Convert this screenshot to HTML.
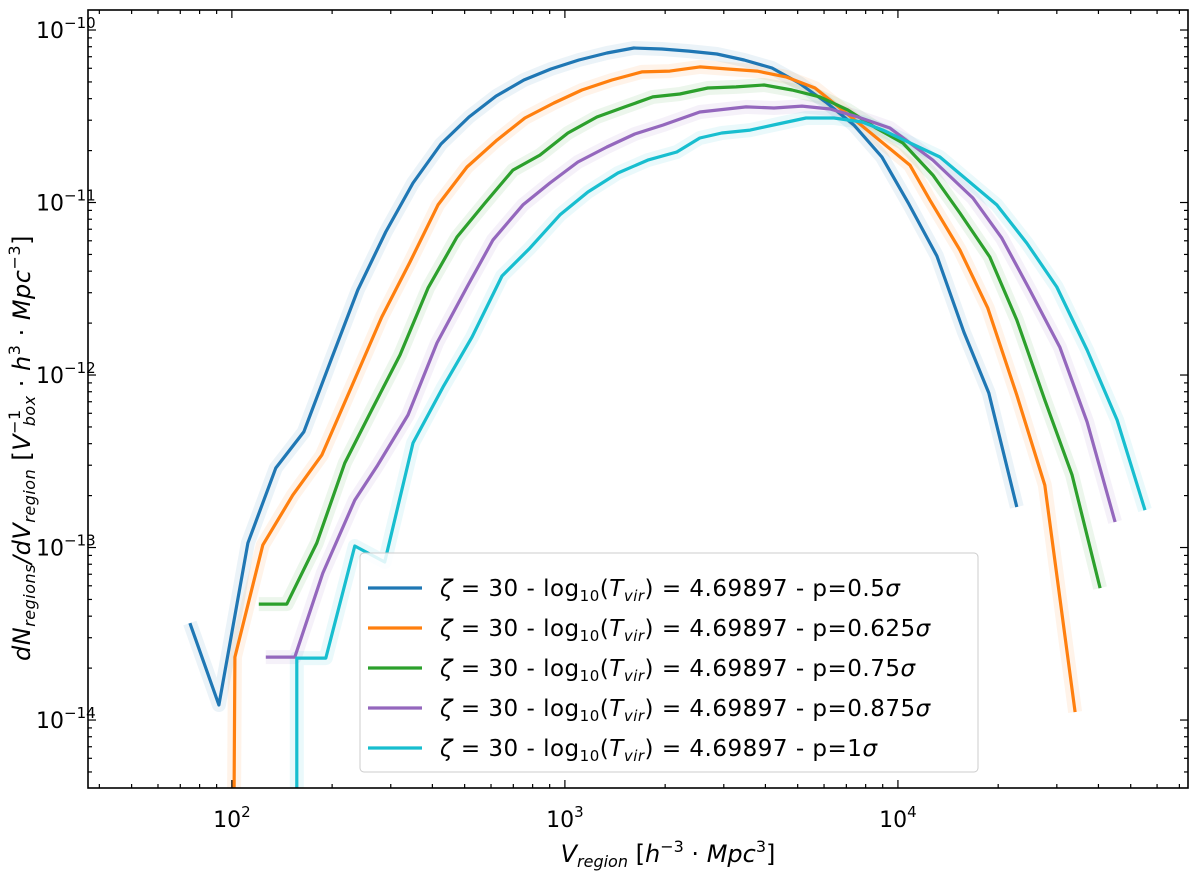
<!DOCTYPE html>
<html><head><meta charset="utf-8"><style>
body{margin:0;background:#fff;}
svg text{font-family:"DejaVu Sans","Liberation Sans",sans-serif;}
</style></head><body>
<svg id="chart" width="1200" height="876" xmlns="http://www.w3.org/2000/svg"></svg>
<script>
// data: log10(V_region) and log10(dN/dV)
const blueX=[1.874,1.961,2.048,2.132,2.216,2.300,2.378,2.462,2.544,2.628,2.712,2.793,2.877,2.958,3.042,3.126,3.207,3.291,3.372,3.456,3.538,3.622,3.703,3.787,3.868,3.952,4.033,4.117,4.198,4.273,4.357];
const blueY=[-13.438,-13.913,-12.974,-12.539,-12.330,-11.901,-11.507,-11.171,-10.887,-10.661,-10.504,-10.383,-10.290,-10.226,-10.174,-10.133,-10.104,-10.110,-10.122,-10.139,-10.174,-10.220,-10.307,-10.423,-10.551,-10.736,-11.009,-11.310,-11.751,-12.104,-12.765];
const orangeX=[2.006,2.009,2.093,2.183,2.270,2.360,2.450,2.535,2.619,2.706,2.796,2.880,2.967,3.051,3.141,3.231,3.315,3.405,3.489,3.577,3.664,3.751,3.871,3.955,4.036,4.096,4.186,4.270,4.357,4.441,4.532];
const orangeY=[-14.6,-13.635,-12.986,-12.696,-12.464,-12.064,-11.664,-11.345,-11.014,-10.794,-10.638,-10.510,-10.423,-10.348,-10.290,-10.243,-10.238,-10.214,-10.226,-10.238,-10.272,-10.336,-10.522,-10.655,-10.783,-10.986,-11.275,-11.612,-12.116,-12.638,-13.954];
const greenX=[2.081,2.165,2.255,2.339,2.420,2.505,2.589,2.676,2.760,2.844,2.925,3.009,3.096,3.180,3.264,3.345,3.429,3.514,3.598,3.682,3.766,3.850,3.934,4.015,4.105,4.186,4.276,4.357,4.441,4.523,4.607];
const greenY=[-13.328,-13.328,-12.974,-12.510,-12.203,-11.884,-11.496,-11.200,-11.003,-10.812,-10.725,-10.597,-10.504,-10.446,-10.388,-10.371,-10.336,-10.330,-10.319,-10.348,-10.388,-10.464,-10.568,-10.655,-10.841,-11.061,-11.316,-11.681,-12.145,-12.580,-13.235];
const purpleX=[2.102,2.189,2.273,2.369,2.438,2.529,2.616,2.706,2.784,2.874,2.955,3.039,3.126,3.210,3.294,3.405,3.544,3.628,3.712,3.796,3.880,3.976,4.105,4.225,4.312,4.396,4.486,4.568,4.652];
const purpleY=[-13.635,-13.635,-13.148,-12.725,-12.522,-12.232,-11.814,-11.490,-11.217,-11.014,-10.887,-10.765,-10.678,-10.603,-10.551,-10.475,-10.446,-10.452,-10.441,-10.458,-10.504,-10.568,-10.754,-10.974,-11.206,-11.507,-11.838,-12.272,-12.852];
const cyanX=[2.195,2.195,2.282,2.369,2.459,2.544,2.634,2.721,2.811,2.895,2.985,3.069,3.159,3.249,3.336,3.405,3.471,3.556,3.640,3.724,3.808,3.892,3.955,4.126,4.297,4.387,4.477,4.568,4.658,4.742];
const cyanY=[-14.6,-13.641,-13.641,-12.991,-13.084,-12.394,-12.070,-11.780,-11.426,-11.264,-11.072,-10.939,-10.829,-10.754,-10.707,-10.626,-10.597,-10.580,-10.545,-10.510,-10.510,-10.533,-10.580,-10.736,-11.014,-11.235,-11.490,-11.855,-12.261,-12.783];
const seriesLabels=["0.5","0.625","0.75","0.875","1"];
const xTickExps=[2,3,4];
const yTickExps=[-10,-11,-12,-13,-14];

const NS="http://www.w3.org/2000/svg";
const svg=document.getElementById('chart');
const L=88,R=1188,T=10,B=788;
const xMin=1.568,xMax=4.871,yMin=-14.394,yMax=-9.884;
function sx(v){return L+(v-xMin)/(xMax-xMin)*(R-L);}
function sy(v){return B-(v-yMin)/(yMax-yMin)*(B-T);}
function mk(tag,attrs,parent){const e=document.createElementNS(NS,tag);for(const k in attrs)e.setAttribute(k,attrs[k]);(parent||svg).appendChild(e);return e;}

const defs=mk('defs',{});
const cp=mk('clipPath',{id:'clip'},defs);
mk('rect',{x:L,y:T,width:R-L,height:B-T},cp);
const plot=mk('g',{'clip-path':'url(#clip)'});



const series=[[blueX,blueY,'#1f77b4','series-p0.5'],[orangeX,orangeY,'#ff7f0e','series-p0.625'],[greenX,greenY,'#2ca02c','series-p0.75'],[purpleX,purpleY,'#9467bd','series-p0.875'],[cyanX,cyanY,'#17becf','series-p1']];
series.forEach(s=>{
  const pts=s[0].map((x,i)=>sx(x).toFixed(1)+','+sy(s[1][i]).toFixed(1)).join(' ');
  const band=mk('polyline',{points:pts,fill:'none',stroke:s[2],'stroke-opacity':0.09,'stroke-width':14,'stroke-linejoin':'round'},plot);
  
  
});
series.forEach(s=>{
  const pts=s[0].map((x,i)=>sx(x).toFixed(1)+','+sy(s[1][i]).toFixed(1)).join(' ');
  const ln=mk('polyline',{points:pts,fill:'none',stroke:s[2],'stroke-width':3.2,'stroke-linejoin':'round'},plot);
  
  
});

const fr=mk('rect',{x:L,y:T,width:R-L,height:B-T,fill:'none',stroke:'#000','stroke-width':1.6});



const tg=mk('g',{stroke:'#000','stroke-width':1.2});


for(let d=1;d<=4;d++)for(let m=1;m<10;m++){
  const v=d+Math.log10(m); if(v<xMin||v>xMax)continue;
  const len=m===1?8:4;const x=sx(v);
  mk('line',{x1:x,y1:B,x2:x,y2:B-len},tg);mk('line',{x1:x,y1:T,x2:x,y2:T+len},tg);
}
for(let d=-15;d<=-10;d++)for(let m=1;m<10;m++){
  const v=d+Math.log10(m); if(v<yMin||v>yMax)continue;
  const len=m===1?8:4;const y=sy(v);
  mk('line',{x1:L,y1:y,x2:L+len,y2:y},tg);mk('line',{x1:R,y1:y,x2:R-len,y2:y},tg);
}
xTickExps.forEach(e=>{
  const t=mk('text',{x:sx(e),y:827,'text-anchor':'middle','font-size':22});
  
  
  t.innerHTML='10<tspan dy="-10" font-size="15">'+e+'</tspan>';
});
yTickExps.forEach(e=>{
  const t=mk('text',{x:36,y:sy(e)+8,'font-size':22});
  
  
  t.innerHTML='10<tspan dy="-10" font-size="15">−'+(-e)+'</tspan>';
});
const xt=mk('text',{x:668,y:862,'text-anchor':'middle','font-size':24});


xt.innerHTML='<tspan font-style="italic">V</tspan><tspan font-size="16" dy="5" font-style="italic">region</tspan><tspan dy="-5"> [</tspan><tspan font-style="italic">h</tspan><tspan font-size="16" dy="-10">−3</tspan><tspan dy="10"> · </tspan><tspan font-style="italic">Mpc</tspan><tspan font-size="16" dy="-10">3</tspan><tspan dy="10">]</tspan>';
const yt=mk('text',{x:0,y:0,'text-anchor':'middle','font-size':24,'letter-spacing':0.5,transform:'translate(30,448) rotate(-90)'});


yt.innerHTML='<tspan font-style="italic">dN</tspan><tspan font-size="16" dy="5" font-style="italic">regions</tspan><tspan dy="-5" font-style="italic">/dV</tspan><tspan font-size="16" dy="5" font-style="italic">region</tspan><tspan dy="-5">   [</tspan><tspan font-style="italic">V</tspan><tspan font-size="16" dy="-10">−1</tspan><tspan font-size="16" dy="15" dx="-17" font-style="italic">box</tspan><tspan dy="-5"> · </tspan><tspan font-style="italic">h</tspan><tspan font-size="16" dy="-10">3</tspan><tspan dy="10"> · </tspan><tspan font-style="italic">Mpc</tspan><tspan font-size="16" dy="-10">−3</tspan><tspan dy="10">]</tspan>';

const lg=mk('g',{});


mk('rect',{x:360,y:553,width:618,height:219,rx:4,fill:'#fff','fill-opacity':0.85,stroke:'#ccc','stroke-width':1},lg);
series.forEach((s,i)=>{
  const y=588+i*40;
  const ent=mk('g',{},lg);
  
  
  mk('line',{x1:368,y1:y,x2:422,y2:y,stroke:s[2],'stroke-width':3.2},ent);
  const t=mk('text',{x:440,y:y+8,'font-size':23,'letter-spacing':0.5},ent);
  t.innerHTML='<tspan font-style="italic">ζ</tspan> = 30 - log<tspan font-size="15" dy="5">10</tspan><tspan dy="-5">(</tspan><tspan font-style="italic">T</tspan><tspan font-size="15" dy="5" font-style="italic">vir</tspan><tspan dy="-5">) = 4.69897 - p='+seriesLabels[i]+'</tspan><tspan font-style="italic">σ</tspan>';
});
</script>
</body></html>
